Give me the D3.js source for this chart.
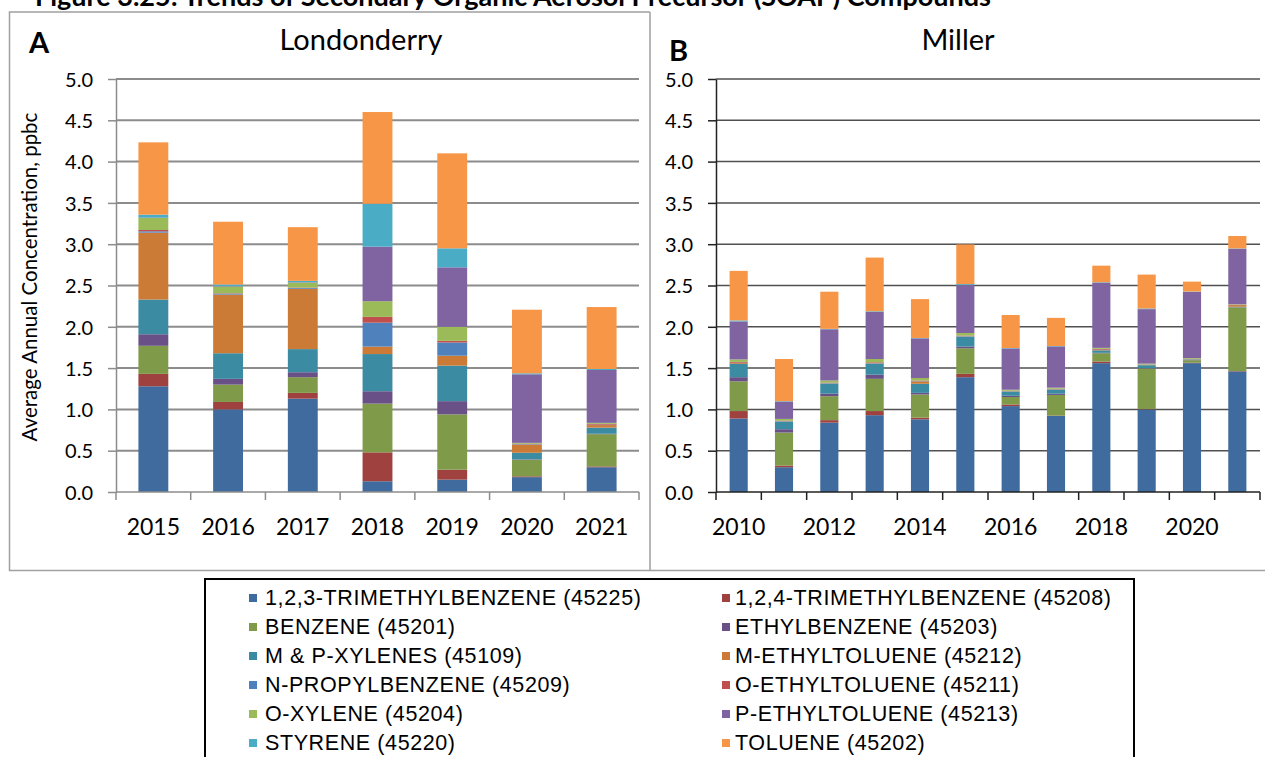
<!DOCTYPE html>
<html>
<head>
<meta charset="utf-8">
<script src="https://cdn.jsdelivr.net/npm/d3@7"></script>
<style>
  body { margin: 0; background: #fff; }
  svg { display: block; }
  .tick text { font-family: Lato, "Open Sans", sans-serif; fill: #000; }
</style>
</head>
<body>
<svg id="chart" width="1265" height="757"></svg>
<script>
// series, in stacking order (bottom to top)
const seriesNames = [
  '1,2,3-TRIMETHYLBENZENE (45225)', '1,2,4-TRIMETHYLBENZENE (45208)',
  'BENZENE (45201)', 'ETHYLBENZENE (45203)',
  'M & P-XYLENES (45109)', 'M-ETHYLTOLUENE (45212)',
  'N-PROPYLBENZENE (45209)', 'O-ETHYLTOLUENE (45211)',
  'O-XYLENE (45204)', 'P-ETHYLTOLUENE (45213)',
  'STYRENE (45220)', 'TOLUENE (45202)'
];
const seriesColors = [
  '#406b9e', '#9e413f', '#7f9a48', '#695187', '#3b8ba3', '#cc7b37',
  '#4f81bd', '#c0504d', '#9bbb59', '#8064a2', '#4bacc6', '#f79646'
];

const londonderryYears = ['2015', '2016', '2017', '2018', '2019', '2020', '2021'];
// one row per series, one value per year (ppbC)
const londonderryValues = [
  [1.28, 1.00, 1.13, 0.13, 0.15, 0.18, 0.30],
  [0.15, 0.09, 0.07, 0.35, 0.12, 0.01, 0.01],
  [0.34, 0.21, 0.19, 0.59, 0.67, 0.20, 0.39],
  [0.14, 0.07, 0.06, 0.15, 0.16, 0.005, 0.005],
  [0.42, 0.31, 0.28, 0.45, 0.43, 0.08, 0.075],
  [0.81, 0.71, 0.73, 0.09, 0.12, 0.10, 0.03],
  [0.016, 0.012, 0.01, 0.29, 0.16, 0.005, 0.005],
  [0.016, 0.005, 0.005, 0.07, 0.02, 0.005, 0.01],
  [0.145, 0.08, 0.06, 0.19, 0.17, 0.01, 0.012],
  [0.005, 0.005, 0.005, 0.66, 0.72, 0.83, 0.64],
  [0.036, 0.02, 0.016, 0.52, 0.23, 0.012, 0.012],
  [0.875, 0.76, 0.65, 1.11, 1.15, 0.77, 0.75]
];

const millerYears = ['2010', '2011', '2012', '2013', '2014', '2015',
                     '2016', '2017', '2018', '2019', '2020', '2021'];
const millerValues = [
  [0.89, 0.30, 0.84, 0.93, 0.88, 1.39, 1.04, 0.92, 1.56, 1.00, 1.56, 1.46],
  [0.09, 0.02, 0.03, 0.05, 0.02, 0.04, 0.02, 0.005, 0.02, 0.005, 0.005, 0.005],
  [0.36, 0.40, 0.29, 0.39, 0.28, 0.31, 0.09, 0.25, 0.10, 0.49, 0.03, 0.77],
  [0.05, 0.04, 0.03, 0.05, 0.02, 0.02, 0.015, 0.015, 0.005, 0.005, 0.003, 0.003],
  [0.16, 0.09, 0.12, 0.13, 0.11, 0.12, 0.05, 0.05, 0.03, 0.035, 0.005, 0.005],
  [0.01, 0.005, 0.005, 0.005, 0.03, 0.005, 0.005, 0.005, 0.005, 0.003, 0.003, 0.02],
  [0.005, 0.005, 0.005, 0.005, 0.005, 0.005, 0.003, 0.003, 0.003, 0.003, 0.003, 0.003],
  [0.01, 0.005, 0.005, 0.01, 0.005, 0.005, 0.003, 0.003, 0.01, 0.003, 0.003, 0.003],
  [0.03, 0.02, 0.025, 0.04, 0.03, 0.03, 0.012, 0.012, 0.012, 0.01, 0.01, 0.005],
  [0.46, 0.21, 0.62, 0.57, 0.48, 0.58, 0.50, 0.50, 0.79, 0.66, 0.80, 0.67],
  [0.012, 0.005, 0.005, 0.008, 0.005, 0.012, 0.005, 0.005, 0.005, 0.008, 0.005, 0.005],
  [0.60, 0.51, 0.45, 0.65, 0.47, 0.48, 0.40, 0.34, 0.20, 0.41, 0.12, 0.15]
];
const millerTickLabels = ['2010', '2012', '2014', '2016', '2018', '2020'];
const yTicks = [0, 0.5, 1, 1.5, 2, 2.5, 3, 3.5, 4, 4.5, 5];

const svg = d3.select('#chart');
svg.append('rect').attr('width', 1265).attr('height', 757).attr('fill', '#fff');

// figure title, mostly cut off at the top edge as in the source
svg.append('text')
  .attr('x', 35).attr('y', 6)
  .attr('font-family', 'Lato, sans-serif')
  .attr('font-weight', 'bold')
  .attr('font-size', 27)
  .text('Figure 3.25: Trends of Secondary Organic Aerosol Precursor (SOAP) Compounds');

// panel frames
svg.append('path')
  .attr('d', 'M650,12 H9.5 V570.5 H1265 M650,12 V570.5')
  .attr('fill', 'none').attr('stroke', '#a0a0a0').attr('stroke-width', 1.5);

const y = d3.scaleLinear().domain([0, 5]).range([492, 79]);

function drawPanel(opt) {
  const g = svg.append('g');
  const keys = seriesNames.map((d, i) => i);
  const rows = opt.years.map((yr, j) => {
    const r = { year: yr };
    keys.forEach(k => { r[k] = opt.values[k][j]; });
    return r;
  });
  const stacked = d3.stack().keys(keys)(rows);

  const x = d3.scaleBand().domain(opt.years)
    .range([opt.x0, opt.x1]).paddingInner(0.6).paddingOuter(0.3);
  const step = x.step();

  // gridlines
  g.selectAll('.grid').data(yTicks.filter(d => d > 0)).join('line')
    .attr('x1', opt.x0).attr('x2', opt.x1)
    .attr('y1', d => y(d)).attr('y2', d => y(d))
    .attr('stroke', opt.grid).attr('stroke-width', opt.gridWidth);

  // bars
  g.selectAll('.series').data(stacked).join('g')
    .attr('fill', d => seriesColors[d.key])
    .selectAll('rect').data(d => d).join('rect')
    .attr('x', d => x(d.data.year))
    .attr('width', x.bandwidth())
    .attr('y', d => y(d[1]))
    .attr('height', d => y(d[0]) - y(d[1]));

  // y axis
  const ya = g.append('g').attr('transform', `translate(${opt.x0},0)`)
    .call(d3.axisLeft(y).tickValues(yTicks).tickFormat(d3.format('.1f'))
      .tickSize(8).tickSizeOuter(0).tickPadding(15));
  ya.select('.domain').attr('stroke', opt.axis).attr('stroke-width', 1.5);
  ya.selectAll('.tick line').attr('stroke', opt.axis).attr('stroke-width', 1.5);
  ya.selectAll('.tick text').attr('font-size', 20).attr('dy', '0.36em');

  // x axis with ticks on category boundaries
  g.append('line').attr('x1', opt.x0).attr('x2', opt.x1)
    .attr('y1', y(0)).attr('y2', y(0))
    .attr('stroke', opt.axis).attr('stroke-width', 1.5);
  const bounds = opt.years.map(d => x(d) + x.bandwidth() / 2 - step / 2)
    .concat([opt.x1]);
  g.selectAll('.xt').data(bounds).join('line')
    .attr('x1', d => d).attr('x2', d => d)
    .attr('y1', y(0)).attr('y2', y(0) + 8)
    .attr('stroke', opt.axis).attr('stroke-width', 1.5);
  g.selectAll('.xl').data(opt.tickLabels).join('text')
    .attr('x', d => x(d) + x.bandwidth() / 2)
    .attr('y', 535)
    .attr('text-anchor', 'middle')
    .attr('font-family', 'Lato, sans-serif')
    .attr('font-size', 23)
    .text(d => d);

  // panel title and letter
  g.append('text').attr('x', opt.titleX).attr('y', 50)
    .attr('text-anchor', 'middle')
    .attr('font-family', 'Lato, sans-serif').attr('font-size', 29)
    .text(opt.title);
  g.append('text').attr('x', opt.letterX).attr('y', opt.letterY)
    .attr('font-family', 'Lato, sans-serif').attr('font-weight', 'bold')
    .attr('font-size', 29)
    .text(opt.letter);
}

drawPanel({
  years: londonderryYears, values: londonderryValues, tickLabels: londonderryYears,
  x0: 116, x1: 639, grid: '#8c8c8c', gridWidth: 2, axis: '#8c8c8c',
  title: 'Londonderry', titleX: 361, letter: 'A', letterX: 29, letterY: 53
});
drawPanel({
  years: millerYears, values: millerValues, tickLabels: millerTickLabels,
  x0: 716, x1: 1260, grid: '#505050', gridWidth: 1.5, axis: '#222',
  title: 'Miller', titleX: 958, letter: 'B', letterX: 669, letterY: 61
});

// y axis title
svg.append('text')
  .attr('transform', 'translate(37,277) rotate(-90)')
  .attr('text-anchor', 'middle')
  .attr('font-family', 'Lato, sans-serif')
  .attr('font-size', 20.5)
  .text('Average Annual Concentration, ppbc');

// legend
const legend = svg.append('g');
legend.append('path')
  .attr('d', 'M205,760 V579 H1134 V760')
  .attr('fill', '#fff').attr('stroke', '#000').attr('stroke-width', 2);
const items = legend.selectAll('.item').data(seriesNames).join('g')
  .attr('transform', (d, i) =>
    `translate(${i % 2 === 0 ? 249 : 722},${598 + Math.floor(i / 2) * 29})`);
items.append('rect')
  .attr('x', 0).attr('y', -4).attr('width', 8).attr('height', 8)
  .attr('fill', (d, i) => seriesColors[i]);
items.append('text')
  .attr('x', (d, i) => i % 2 === 0 ? 16 : 13)
  .attr('y', 7)
  .attr('font-family', '"Liberation Sans", Arial, sans-serif')
  .attr('font-size', 21.5)
  .attr('letter-spacing', 0.6)
  .text(d => d);
</script>
</body>
</html>
